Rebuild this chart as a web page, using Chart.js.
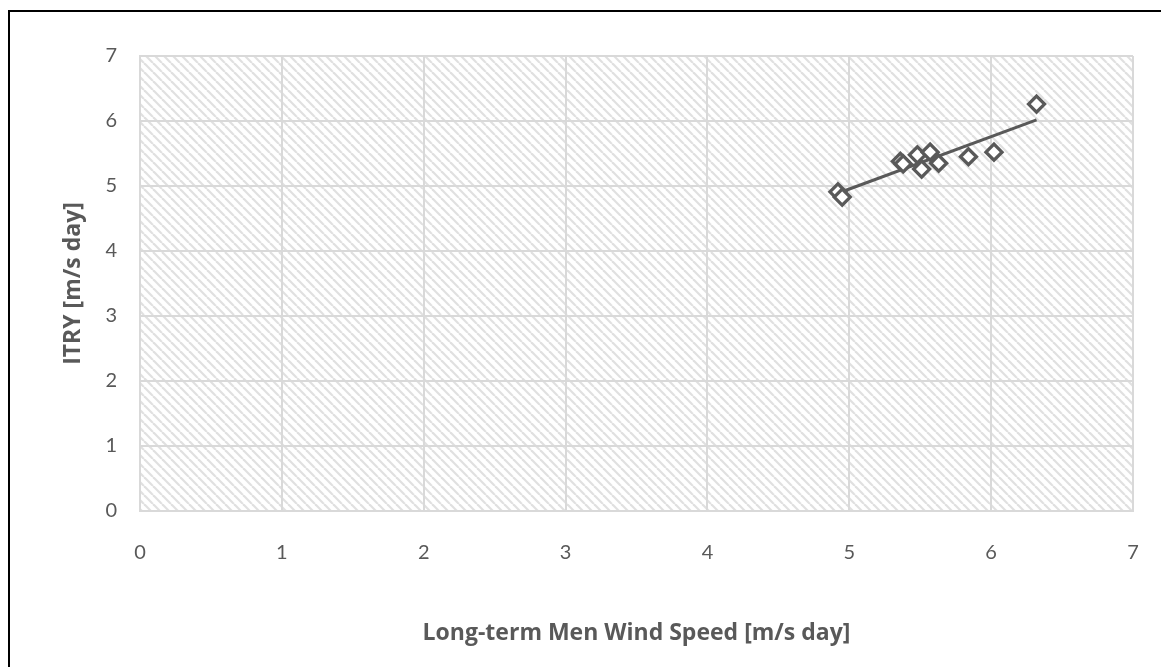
<!DOCTYPE html>
<html>
<head>
<meta charset="utf-8">
<script src="https://cdn.jsdelivr.net/npm/chart.js@4.4.0/dist/chart.umd.min.js"></script>
<style>
  html, body { margin: 0; padding: 0; background: #fff; }
  #wrap { width: 1161px; height: 667px; }
</style>
</head>
<body>
<div id="wrap"><canvas id="scatter" width="1161" height="667"></canvas></div>
<script>
// values
const windSpeed = [4.92, 4.95, 5.36, 5.38, 5.48, 5.57, 5.51, 5.63, 5.84, 6.02, 6.32];
const itry      = [4.91, 4.83, 5.38, 5.34, 5.48, 5.52, 5.26, 5.35, 5.45, 5.52, 6.26];
const axisTicks = [0, 1, 2, 3, 4, 5, 6, 7];

const xTitle = 'Long-term Men Wind Speed [m/s day]';
const yTitle = 'ITRY [m/s day]';

// linear trendline (least squares), like the spreadsheet one
function trendline(xs, ys) {
  const n = xs.length;
  const mx = xs.reduce((a, b) => a + b, 0) / n;
  const my = ys.reduce((a, b) => a + b, 0) / n;
  let sxy = 0, sxx = 0;
  for (let i = 0; i < n; i++) {
    sxy += (xs[i] - mx) * (ys[i] - my);
    sxx += (xs[i] - mx) * (xs[i] - mx);
  }
  const slope = sxy / sxx;
  const x0 = Math.min(...xs), x1 = Math.max(...xs);
  return [
    { x: x0, y: my + slope * (x0 - mx) },
    { x: x1, y: my + slope * (x1 - mx) }
  ];
}

const points = windSpeed.map((x, i) => ({ x: x, y: itry[i] }));

function hatchPattern(ctx) {
  const s = 9;
  const tile = document.createElement('canvas');
  tile.width = s; tile.height = s;
  const t = tile.getContext('2d');
  t.fillStyle = '#ffffff';
  t.fillRect(0, 0, s, s);
  t.strokeStyle = '#e0e0e0';
  t.lineWidth = 2.2;
  [-s, 0, s].forEach(o => {
    t.beginPath();
    t.moveTo(o, 0);
    t.lineTo(o + s, s);
    t.stroke();
  });
  return ctx.createPattern(tile, 'repeat');
}

const background = {
  id: 'background',
  beforeDraw(chart) {
    const ctx = chart.ctx;
    const a = chart.chartArea;
    ctx.save();
    ctx.fillStyle = '#ffffff';
    ctx.fillRect(0, 0, chart.width, chart.height);
    ctx.fillStyle = hatchPattern(ctx);
    ctx.fillRect(a.left, a.top, a.right - a.left, a.bottom - a.top);
    // outer frame (only top and left edges are inside the picture)
    ctx.strokeStyle = '#000000';
    ctx.lineWidth = 2;
    ctx.beginPath();
    ctx.moveTo(chart.width + 5, 11);
    ctx.lineTo(9, 11);
    ctx.lineTo(9, chart.height + 5);
    ctx.stroke();
    ctx.restore();
  }
};

const grey = '#595959';
const gridCol = '#d9d9d9';

new Chart(document.getElementById('scatter').getContext('2d'), {
  type: 'scatter',
  data: {
    datasets: [{
      label: 'ITRY',
      data: points,
      pointStyle: 'rectRot',
      pointRadius: 8,
      pointHoverRadius: 8,
      pointBorderWidth: 3.3,
      pointBorderColor: grey,
      pointBackgroundColor: '#ffffff',
      order: 1
    }, {
      type: 'line',
      label: 'Trend',
      data: trendline(windSpeed, itry),
      borderColor: grey,
      borderWidth: 3,
      pointRadius: 0,
      fill: false,
      order: 2
    }]
  },
  options: {
    responsive: false,
    animation: false,
    layout: { padding: { top: 56, right: 28, bottom: 0, left: 40 } },
    plugins: {
      legend: { display: false },
      tooltip: { enabled: false }
    },
    scales: {
      x: {
        type: 'linear',
        min: 0, max: 7,
        afterBuildTicks: s => { s.ticks = axisTicks.map(v => ({ value: v })); },
        afterFit: s => { s.height = 156; },
        grid: { color: gridCol, lineWidth: 2, drawTicks: true, tickLength: 25, tickColor: 'rgba(0,0,0,0)' },
        border: { color: gridCol, width: 2 },
        ticks: { color: grey, padding: 5, font: { family: 'Lato', size: 20 } },
        title: {
          display: true, text: xTitle, color: grey,
          padding: { top: 0, bottom: 20 },
          font: { family: 'Open Sans', size: 23, weight: 'bold' }
        }
      },
      y: {
        type: 'linear',
        min: 0, max: 7,
        afterBuildTicks: s => { s.ticks = axisTicks.map(v => ({ value: v })); },
        afterFit: s => { s.width = 100; },
        grid: { color: gridCol, lineWidth: 2, drawTicks: false },
        border: { color: gridCol, width: 2 },
        ticks: { color: grey, padding: 23, font: { family: 'Lato', size: 20 } },
        title: {
          display: true, text: yTitle, color: grey,
          padding: { top: 20, bottom: 0 },
          font: { family: 'Open Sans', size: 23, weight: 'bold' }
        }
      }
    }
  },
  plugins: [background]
});
</script>
</body>
</html>
